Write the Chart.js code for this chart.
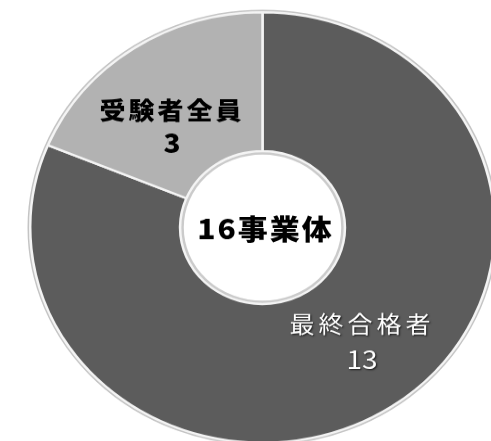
<!DOCTYPE html>
<html><head><meta charset="utf-8">
<script src="https://cdn.jsdelivr.net/npm/chart.js@4/dist/chart.umd.min.js"></script>
<style>
html,body{margin:0;padding:0;background:#fff;overflow:hidden}
#wrap{width:491px;height:441px;overflow:hidden;position:relative;background:#fff}
#c{position:absolute;left:0;top:0;transform:scaleY(0.927);transform-origin:0 0}
</style></head><body>
<div id="wrap"><canvas id="c" width="500" height="480"></canvas></div>
<script>
const categories = ['最終合格者', '受験者全員'];
const values = [13, 3];
const centerTitle = '16事業体';
const sliceColors = ['#5c5c5c', '#b2b2b2'];

const labelPlugin = {
  id: 'sliceLabels',
  afterDatasetsDraw(chart, args, opts) {
    const ctx = chart.ctx;
    const meta = chart.getDatasetMeta(0);
    const a0 = meta.data[0];
    // rims
    ctx.save();
    ctx.beginPath();
    ctx.arc(a0.x, a0.y, a0.outerRadius + 2, 0, Math.PI * 2);
    ctx.strokeStyle = '#c4c4c4'; ctx.lineWidth = 1.5; ctx.stroke();
    ctx.beginPath();
    ctx.arc(a0.x, a0.y, a0.innerRadius - 2.5, 0, Math.PI * 2);
    ctx.strokeStyle = 'rgba(190,190,190,0.8)'; ctx.lineWidth = 2.5; ctx.stroke();
    ctx.restore();
    meta.data.forEach((arc, i) => {
      const p = arc.tooltipPosition();
      const s = opts.styles[i];
      ctx.save();
      ctx.fillStyle = s.color;
      ctx.textAlign = 'center';
      ctx.textBaseline = 'middle';
      if (s.shadow) {
        ctx.shadowColor = 'rgba(0,0,0,0.75)';
        ctx.shadowBlur = 2; ctx.shadowOffsetX = 1; ctx.shadowOffsetY = 1;
      }
      const x = p.x + s.dx, y = p.y + s.dy;
      ctx.font = s.font;
      ctx.letterSpacing = s.spacing;
      ctx.fillText(categories[i], x, y - s.gap / 2);
      ctx.font = s.numFont;
      ctx.letterSpacing = '0px';
      ctx.fillText(String(values[i]), x, y + s.gap / 2);
      ctx.restore();
    });
    ctx.save();
    ctx.font = opts.centerFont;
    ctx.fillStyle = '#000';
    ctx.textAlign = 'center';
    ctx.textBaseline = 'middle';
    ctx.letterSpacing = '2px';
    ctx.fillText(centerTitle, a0.x + 3, a0.y + 1);
    ctx.restore();
  }
};

new Chart(document.getElementById('c'), {
  type: 'doughnut',
  data: {
    labels: categories,
    datasets: [{
      data: values,
      backgroundColor: sliceColors,
      borderColor: '#f4f4f4',
      borderWidth: 2.5
    }]
  },
  options: {
    responsive: false,
    animation: false,
    devicePixelRatio: 1,
    cutout: '35.5%',
    layout: { padding: { left: 29, right: 4, top: 12, bottom: 1 } },
    plugins: {
      legend: { display: false },
      tooltip: { enabled: false },
      sliceLabels: {
        centerFont: '900 30px "Noto Sans CJK JP"',
        styles: [
          { font: '25px "Noto Sans CJK JP"', numFont: '28px "Noto Sans CJK JP"', color: '#fff', spacing: '4px', shadow: true, dx: 12, dy: -8, gap: 38 },
          { font: '900 26px "Noto Sans CJK JP"', numFont: '900 28px "Noto Sans CJK JP"', color: '#000', spacing: '3px', shadow: false, dx: -3, dy: 22, gap: 36 }
        ]
      }
    }
  },
  plugins: [labelPlugin]
});
</script>
</body></html>
